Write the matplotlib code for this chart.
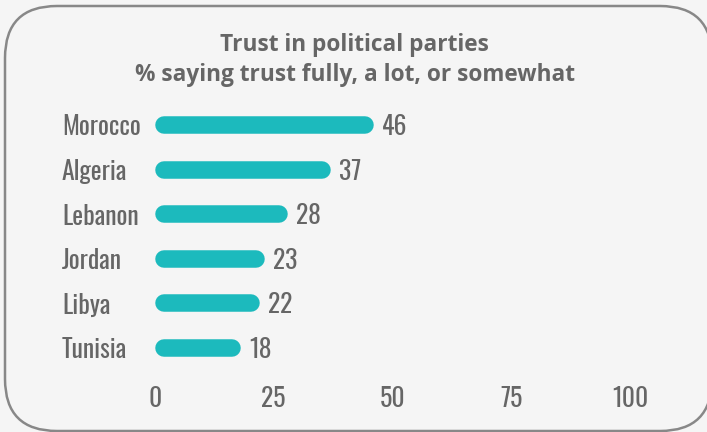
import matplotlib
matplotlib.use('Agg')
import matplotlib.pyplot as plt
from matplotlib.patches import FancyBboxPatch

label_fonts = ['Oswald', 'Roboto Condensed', 'DejaVu Sans']
title_fonts = ['Open Sans', 'Roboto', 'DejaVu Sans']
plt.rcParams['font.family'] = label_fonts

countries = ['Morocco', 'Algeria', 'Lebanon', 'Jordan', 'Libya', 'Tunisia']
values = [46, 37, 28, 23, 22, 18]
ticks = [0, 25, 50, 75, 100]
title1 = 'Trust in political parties'
title2 = '% saying trust fully, a lot, or somewhat'

W, H = 707, 432
bg_col = '#f5f5f5'
txt_col = '#666666'
bar_col = '#1cbabd'
lab_size = 18.5

fig = plt.figure(figsize=(W / 100, H / 100), dpi=100, facecolor=bg_col)

# rounded frame, drawn in pixel units on a full-figure axes
bg = fig.add_axes([0, 0, 1, 1], zorder=0)
bg.set_xlim(0, W)
bg.set_ylim(H, 0)
bg.axis('off')
bg.add_patch(FancyBboxPatch((5, 6), 707, 425, boxstyle='round,pad=0,rounding_size=52',
                            fc=bg_col, ec='#888888', lw=1.8, clip_on=False))

fig.text(0.502, 1 - 45 / H, title1, ha='center', va='center', fontsize=16.3,
         fontweight='bold', color=txt_col, family=title_fonts)
fig.text(0.502, 1 - 75 / H, title2, ha='center', va='center', fontsize=16.3,
         fontweight='bold', color=txt_col, family=title_fonts)

# x: 0 -> 155px, 4.75 px per unit; rows 44.6px apart starting at 125px
px_unit = 4.75
xmin, xmax = -3, 106
ymin, ymax = -0.6, 5.6
left = 155 + xmin * px_unit
width = (xmax - xmin) * px_unit
top = 125 + ymin * 44.6
bottom = 125 + ymax * 44.6
ax = fig.add_axes([left / W, 1 - bottom / H, width / W, (bottom - top) / H], zorder=1)
ax.set_facecolor('none')
ax.set_xlim(xmin, xmax)
ax.set_ylim(ymax, ymin)

bar_px = 17.5
r = (bar_px / 2) / px_unit
rows = list(range(len(countries)))
ax.hlines(rows, [r] * len(values), [v - r for v in values], colors=bar_col,
          lw=bar_px * 0.72, capstyle='round')

for i, v in zip(rows, values):
    ax.annotate(str(v), (v, i), xytext=(6, -1.5), textcoords='offset points',
                ha='left', va='center', fontsize=lab_size, fontweight='light', color=txt_col)

ax.set_yticks(rows, countries)
for lbl in ax.get_yticklabels():
    lbl.set_ha('left')
    lbl.set_fontweight('light')
ax.tick_params(axis='y', length=0, pad=(left - 62) * 0.72, labelsize=lab_size, labelcolor=txt_col)
ax.set_xticks(ticks, [str(t) for t in ticks])
for lbl in ax.get_xticklabels():
    lbl.set_fontweight('light')
ax.tick_params(axis='x', length=0, pad=8, labelsize=lab_size, labelcolor=txt_col)
for s in ax.spines.values():
    s.set_visible(False)

fig.savefig('out.png', dpi=100, facecolor=bg_col)
